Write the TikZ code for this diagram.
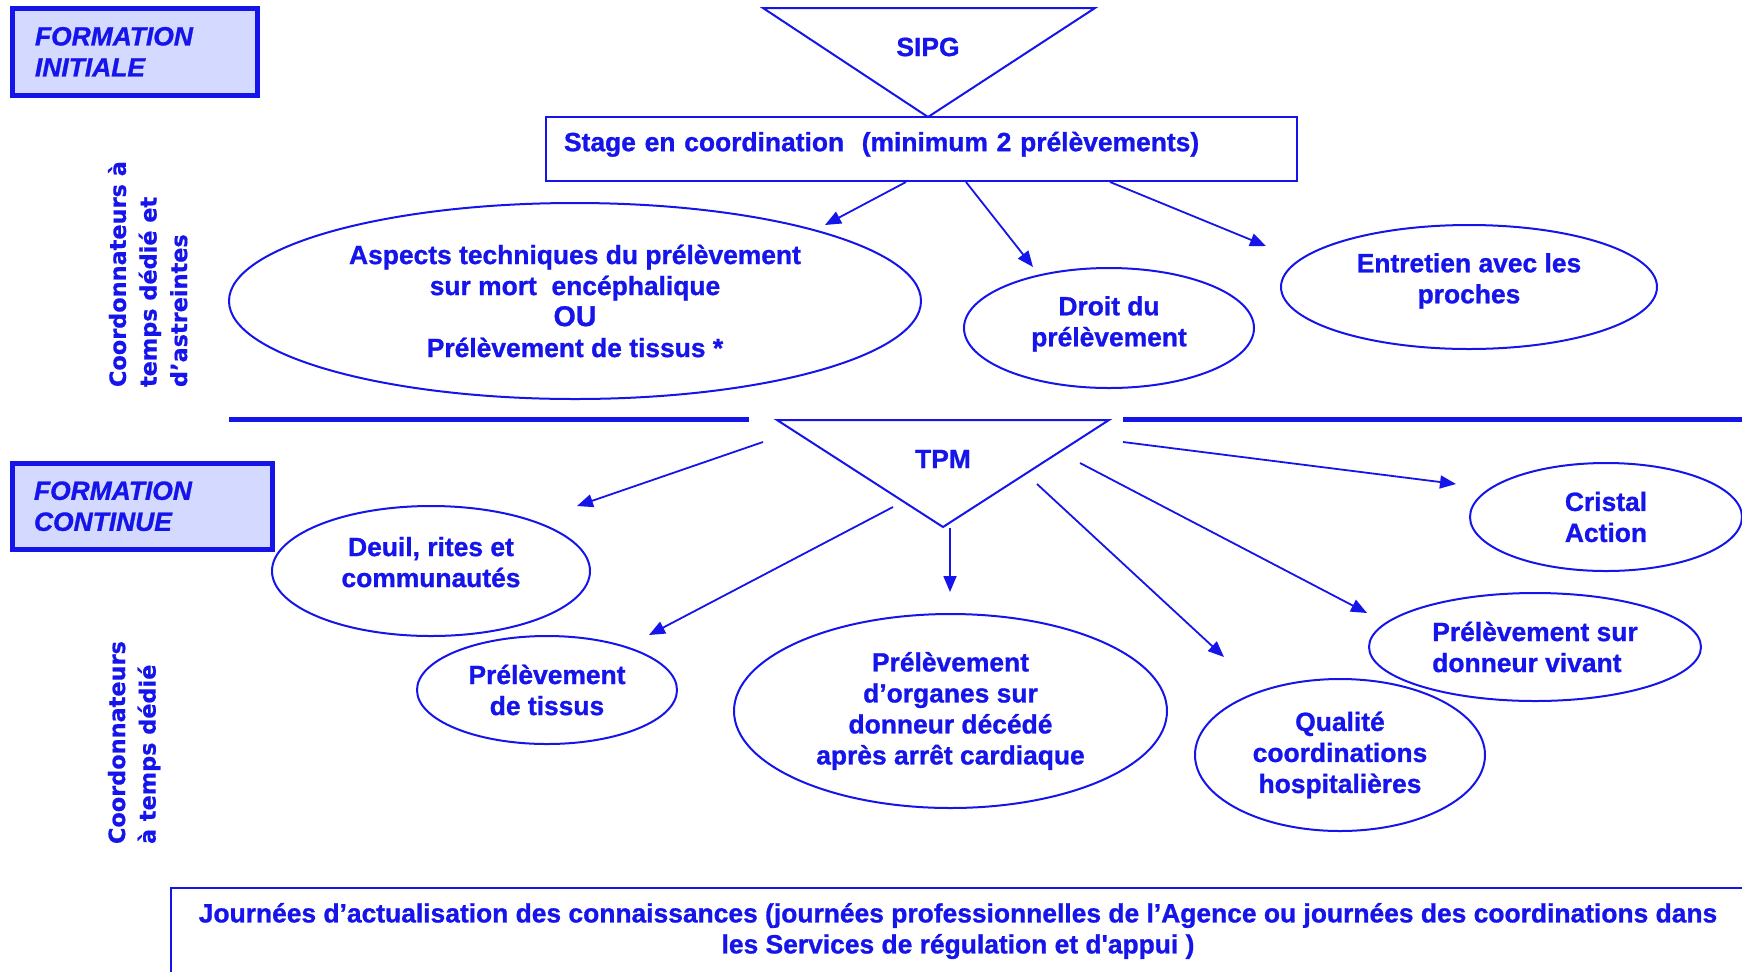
\documentclass[tikz,border=0pt]{standalone}
\usepackage{fontspec}
\setmainfont{Liberation Sans}[Ligatures=TeXOff, BoldFeatures={FakeBold=1}, BoldItalicFeatures={FakeBold=1}]
\newfontfamily\verd{DejaVu Sans}[Ligatures=TeXOff, BoldFeatures={FakeBold=0.6}]
\usetikzlibrary{arrows.meta,shapes.geometric}
\definecolor{bl}{RGB}{20,20,235}
\definecolor{lav}{RGB}{212,218,255}
\begin{document}
\begin{tikzpicture}[x=0.5pt,y=-0.5pt,
  every node/.style={text=bl, font=\bfseries\fontsize{13.2}{15.5}\selectfont, inner sep=0pt, outer sep=0pt},
  ell/.style={draw=bl, line width=1pt, ellipse, align=center},
  arr/.style={draw=bl, line width=0.9pt, -{Triangle[length=8pt,width=6.5pt]}},
  lin/.style={draw=bl, line width=1pt},
  heavy/.style={draw=bl, line width=2.2pt},
  formbox/.style={draw=bl, fill=lav, line width=2.5pt, font=\bfseries\itshape\fontsize{13.2}{15.5}\selectfont, align=left},
  vert/.style={font=\verd\bfseries\fontsize{11.2}{15.3}\selectfont, rotate=90, align=left, anchor=north west}]
\clip (0,0) rectangle (1742,971);

% left labels
\node[formbox, minimum width=122.5pt, minimum height=43.5pt, text width=100pt, inner xsep=11.25pt] (fi) at (135,51.7) {FORMATION\\INITIALE};
\node[formbox, minimum width=129.75pt, minimum height=43.25pt, text width=108.25pt, inner xsep=10.75pt] (fc) at (142.25,506.25) {FORMATION\\CONTINUE};
\node[vert] (v1) at (108,387) {Coordonnateurs à\\temps dédié et\\d’astreintes};
\node[vert] (v2) at (108,844) {Coordonnateurs\\à temps dédié};

% SIPG triangle
\coordinate (sA) at (763,8);
\coordinate (sB) at (1095,8);
\coordinate (sC) at (928,117);
\draw[lin, line join=miter] (sA) -- (sB) -- (sC) -- cycle;
\node (sipg) at (928,47) {SIPG};

% Stage box
\node[lin, minimum width=375.5pt, minimum height=32pt, text width=357.5pt, inner xsep=9pt, align=left] (stage) at (921.5,149) {Stage en coordination~ (minimum 2 prélèvements)\rule[-7.5pt]{0pt}{0pt}};

% top ellipses
\node[ell, minimum width=346pt, minimum height=98pt] (aspects) at (575,301) {Aspects techniques du prélèvement\\sur mort~ encéphalique\\{\fontsize{14.3}{17}\selectfont OU}\\Prélèvement de tissus *};
\node[ell, minimum width=145pt, minimum height=60pt] (droit) at (1109,328) {Droit du\\prélèvement\rule[-6.8pt]{0pt}{0pt}};
\node[ell, minimum width=188pt, minimum height=62pt] (entretien) at (1469,287) {Entretien avec les\\proches\rule[-8.8pt]{0pt}{0pt}};

% arrows from stage
\coordinate (a1s) at (906,182); \coordinate (a1e) at (825,225);
\coordinate (a2s) at (966,182); \coordinate (a2e) at (1033,267);
\coordinate (a3s) at (1110,182); \coordinate (a3e) at (1266,246);
\draw[arr] (a1s) -- (a1e);
\draw[arr] (a2s) -- (a2e);
\draw[arr] (a3s) -- (a3e);

% separator lines
\coordinate (h1a) at (229,419.5); \coordinate (h1b) at (749,419.5);
\coordinate (h2a) at (1123,419.5); \coordinate (h2b) at (1760,419.5);
\draw[heavy] (h1a) -- (h1b);
\draw[heavy] (h2a) -- (h2b);

% TPM triangle
\coordinate (tA) at (777,420);
\coordinate (tB) at (1109,420);
\coordinate (tC) at (943,527);
\draw[lin, line join=miter] (tA) -- (tB) -- (tC) -- cycle;
\node (tpm) at (943,459) {TPM};

% bottom ellipses
\node[ell, minimum width=159pt, minimum height=65pt] (deuil) at (431,571) {Deuil, rites et\\communautés\rule[-9pt]{0pt}{0pt}};
\node[ell, minimum width=130pt, minimum height=54pt] (tissus) at (547,690) {Prélèvement\\de tissus};
\node[ell, minimum width=216.5pt, minimum height=97pt] (organes) at (950.5,711) {Prélèvement\\d’organes sur\\donneur décédé\\après arrêt cardiaque};
\node[ell, minimum width=145pt, minimum height=76pt] (qualite) at (1340,755) {Qualité\\coordinations\\hospitalières};
\node[ell, minimum width=166pt, minimum height=54pt, align=left] (vivant) at (1535,647) {Prélèvement sur\\donneur vivant};
\node[ell, minimum width=136pt, minimum height=54pt, align=left] (cristal) at (1606,517) {Cristal\\Action};

% arrows from TPM
\coordinate (b1s) at (763,442); \coordinate (b1e) at (577,506);
\coordinate (b2s) at (893,507); \coordinate (b2e) at (649,635);
\coordinate (b3s) at (950,528); \coordinate (b3e) at (950,592);
\coordinate (b4s) at (1037,484); \coordinate (b4e) at (1224,657);
\coordinate (b5s) at (1080,463); \coordinate (b5e) at (1367,613);
\coordinate (b6s) at (1123,442); \coordinate (b6e) at (1456,484);
\draw[arr] (b1s) -- (b1e);
\draw[arr] (b2s) -- (b2e);
\draw[arr] (b3s) -- (b3e);
\draw[arr] (b4s) -- (b4e);
\draw[arr] (b5s) -- (b5e);
\draw[arr] (b6s) -- (b6e);

% bottom box
\node[lin, anchor=north west, minimum width=794.5pt, minimum height=60pt] (jbox) at (171,888) {};
\node[align=center] (jtxt) at (958,931) {Journées d’actualisation des connaissances (journées professionnelles de l’Agence ou journées des coordinations dans\\les Services de régulation et d'appui )};
\end{tikzpicture}
\end{document}
